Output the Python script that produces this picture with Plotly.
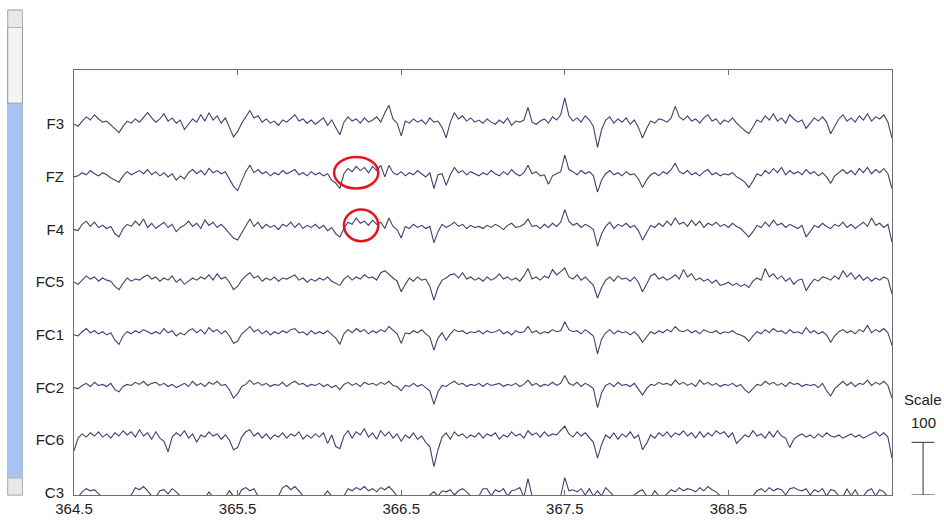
import plotly.graph_objects as go

# ---------------- data ----------------
t_start = 364.5
dt = 0.025
channels = ["F3", "FZ", "F4", "FC5", "FC1", "FC2", "FC6", "C3"]
spacing_uv = 100  # vertical separation between channels (µV)
scale_uv = 100

F3 = [0, -4, 6, 14, 8, 18, 10, 4, 6, -2, -8, -16, -4, 6, 2, 10, 4, 14, 22, 12,
      4, 10, 20, 6, 12, 2, 8, -10, 0, 10, 4, 18, 6, 22, 8, 16, 2, 12, -6, -24,
      -14, 2, 14, 26, 12, 16, 4, 10, 2, 6, -2, 8, 4, 12, 18, 6, 10, 2, 8, 0,
      6, 12, -2, 8, -6, -20, 4, 14, 6, 10, 2, 12, 4, 8, 14, 4, 22, 36, 10, 2,
      -22, 6, 2, 10, 4, 8, 0, 12, 4, 6, -6, -26, 4, 22, 10, 16, 6, 12, 4, 8,
      2, 10, 4, 0, 8, 2, 12, -2, 6, 4, 8, 32, 4, 0, 6, 10, 2, 14, 8, 18,
      50, 16, 6, 12, 4, 16, 8, -4, -44, -10, 8, 14, 2, 10, 4, 12, 0, 8, -6, -26,
      -8, 6, 2, 10, 8, 4, 12, 34, 14, 8, 16, 6, 10, 2, 12, 18, 6, 10, 0, 8,
      4, 12, 2, -6, -12, -18, -6, 8, 4, 16, 8, 20, 6, 12, 2, 18, 10, 4, 8, -8,
      2, 12, 6, 14, 4, -18, -4, 10, 18, 6, 12, 4, 16, 8, 20, 6, 14, 10, 18, 4, -26]
FZ = [0, 2, 8, 4, 12, 6, 2, 8, 4, -2, -6, -10, 2, 10, 4, 8, 12, 6, 14, 4,
      10, 2, 8, 0, 6, -6, 2, -4, 8, 14, 6, 12, 4, 16, 8, 12, 6, 10, -4, -18,
      -26, -8, 10, 22, 8, 14, 6, 10, 2, 8, 4, 12, 6, 10, 14, 4, 8, 2, 10, 4,
      8, 2, 6, -6, -12, -22, 6, 16, 10, 20, 12, 18, 8, 20, 12, 22, 0, 22, 8, 4,
      10, 2, 8, 4, 12, 6, 0, 8, -22, 4, 6, -16, 4, 18, 8, 12, 4, 10, 6, 2,
      8, 4, 12, 6, 2, 10, 4, 14, 6, 2, 8, 22, 6, 10, 2, 4, -14, 2, 6, 10,
      42, 14, 10, 4, 12, 6, 10, 2, -29, -6, 6, 12, 4, 8, 2, 10, 4, 6, -4, -20,
      -6, 4, 8, 2, 10, 6, 14, 26, 10, 6, 12, 4, 8, 2, 10, 14, 4, 8, 2, 6,
      4, 8, 0, -4, -10, -20, -8, 6, 2, 12, 6, 16, 8, 18, 4, 12, 6, 10, 4, 14,
      6, 10, 2, 8, 0, -12, 2, 8, 14, 6, 12, 4, 16, 8, 18, 6, 14, 8, 16, 6, -22]
F4 = [0, -2, 10, 16, 6, 14, 4, 8, 2, 6, -8, -14, 2, 10, 6, 16, 8, 20, 4, 12,
      2, 8, 14, 4, 10, -4, 4, 8, 16, 6, 12, 2, 18, 8, 14, 4, 10, 2, -6, -16,
      -20, -6, 8, 20, 6, 14, 2, 10, 4, 8, 0, 10, 6, 14, 4, 12, 2, 8, 4, 10,
      2, 8, -2, 4, -8, -14, 2, 14, 10, 22, 12, 16, 8, 18, 10, 14, 2, 22, 6, 0,
      -16, 6, 2, 10, 4, 8, 2, 6, -25, -4, 10, 4, 8, 14, 6, 10, 2, 8, 4, 6,
      2, 8, 4, 10, 6, 0, 8, 12, 4, 6, 10, 20, 6, 8, 2, 10, 4, 12, 6, 14,
      38, 16, 8, 12, 4, 10, 6, 0, -32, -8, 6, 14, 2, 10, 6, 12, 4, 8, -2, -20,
      -6, 8, 4, 12, 6, 16, 8, 22, 10, 14, 6, 18, 8, 16, 4, 12, 8, 14, 6, 10,
      4, 12, 6, 2, -6, -14, -4, 8, 4, 14, 6, 18, 8, 12, 4, 10, 6, 2, 8, -14,
      -4, 8, 4, 12, 6, 2, 10, 6, 14, 4, 10, 2, 8, 14, 6, 22, 8, 12, 4, 10, -24]
FC5 = [0, -4, 4, 12, 6, 10, 2, 8, 4, 2, -8, -14, -2, 8, 2, 6, 4, 10, 14, 6,
       10, 2, 8, 4, 12, 0, 6, -4, 2, 8, 4, 10, 6, 14, 4, 16, 6, 10, 0, -14,
       -8, 4, 12, 18, 8, 12, 2, 8, 4, 10, 2, 8, 6, 10, 14, 4, 8, 0, 6, 2,
       8, 4, 10, 2, -2, -6, 6, 12, 4, 10, 6, 14, 8, 10, 4, 18, 22, 14, 8, 2,
       -18, -4, 8, 2, 10, 4, 6, -8, -34, -10, 4, 8, 14, 16, 8, 18, 6, 10, 4, 8,
       2, 10, 4, 8, 16, 6, 10, 4, 8, 2, 12, 26, 6, 10, 4, 12, 8, 24, 14, 20,
       27, 10, 6, 14, 4, 10, 2, -6, -30, -10, 4, 10, 2, 12, 6, 8, 2, 10, 0, -18,
       -4, 12, 16, 6, 10, 4, 8, 14, 6, 24, 10, 16, 4, 8, 2, 6, -2, 4, -6, -4,
       0, -6, -2, -8, -4, -10, 2, 8, 4, 26, 10, 16, 6, 12, 2, 8, -4, 4, 6, -16,
       -4, 6, 2, 10, 8, 4, 12, 6, 22, 10, 18, 6, 14, 4, 10, 2, 8, 4, 10, 6, -22]
FC1 = [0, -2, 6, 12, 4, 8, 2, 6, 0, 4, -10, -18, -2, 6, 2, 8, 4, 10, 6, 2,
       6, 2, 12, 4, 8, -2, 4, 0, 8, 12, 4, 10, 2, 14, 6, 10, 2, 8, -2, -16,
       -12, 2, 8, 16, 6, 10, 2, 8, 0, 6, 2, 8, 4, 10, 12, 4, 6, 0, 8, 2,
       6, 2, 8, 0, -6, -18, 2, 10, 4, 12, 6, 10, 2, 8, 4, 10, 6, 16, 8, 2,
       -16, 4, 2, 8, 4, 10, 2, -4, -29, -6, 4, -10, 2, 10, 6, 8, 2, 6, 4, 8,
       2, 8, 4, 6, 10, 2, 6, 0, 8, 4, 6, 16, 4, 8, 2, 6, 4, 10, 6, 8,
       25, 10, 6, 8, 2, 10, 4, -2, -36, -8, 4, 10, 2, 8, 4, 6, 0, 6, -2, -14,
       -4, 6, 2, 8, 4, 10, 6, 16, 8, 6, 10, 4, 8, 2, 10, 6, 4, 8, 2, 6,
       4, 8, 2, 0, -4, -12, -2, 6, 2, 10, 4, 12, 6, 8, 2, 10, 4, 6, 2, 14,
       4, 8, 2, 6, 0, -14, -2, 6, 10, 4, 8, 2, 10, 6, 18, 4, 10, 6, 12, 4, -20]
FC2 = [0, -2, 4, 8, 2, 10, 4, 6, 2, 8, -4, -8, 2, 6, 4, 10, 6, 12, 4, 8,
       10, 4, 8, 2, 6, 0, 4, 8, 2, 12, 4, 8, 2, 10, 6, 12, 4, 6, -4, -20,
       -12, 2, 6, 14, 6, 10, 4, 8, 2, 6, 4, 10, 2, 8, 12, 6, 8, 2, 6, 4,
       8, 2, 6, 0, 4, -4, 6, 10, 4, 8, 2, 10, 6, 8, 4, 10, 6, 12, 4, 2,
       -6, 4, 2, 8, 2, 6, 0, -6, -32, -8, 4, 2, 8, 12, 6, 8, 2, 6, 4, 8,
       2, 8, 4, 6, 8, 2, 6, 4, 8, 2, 6, 14, 4, 8, 2, 6, 4, 10, 4, 8,
       23, 8, 4, 10, 2, 8, 4, -2, -38, -10, 4, 8, 2, 10, 4, 6, 2, 8, -2, -14,
       -2, 6, 4, 10, 6, 8, 4, 14, 6, 10, 4, 8, 2, 14, 6, 10, 4, 8, 2, 6,
       4, 8, 2, 6, -4, -10, -2, 6, 4, 12, 6, 10, 4, 8, 2, 10, 6, 8, 2, 6,
       4, 6, 0, 8, -6, -16, -2, 6, 12, 4, 10, 2, 8, 6, 14, 4, 10, 6, 12, 4, -20]
FC6 = [-20, 4, 12, 6, 14, 8, 16, 6, 12, 4, 14, 8, 18, 10, 16, 6, 20, 8, 14, 2,
       16, 4, -2, -22, 6, 14, 8, 18, 4, 12, -4, 10, 6, 16, 8, 12, 2, 10, 0, -18,
       -14, 6, 16, 20, 8, 14, 4, 12, 2, 10, 6, 14, 4, 12, 8, 16, 2, 10, 4, 12,
       6, 14, -6, 10, -12, -16, 8, 18, 4, 16, 10, 22, 6, 14, 2, 18, 8, 16, 4, 12,
       -2, 10, 4, 14, 2, 8, -4, -12, -50, -18, 6, 14, 2, 16, 8, 12, 4, 10, 6, 14,
       4, 12, 8, 14, 2, 10, 6, 16, 8, 12, 4, 18, 10, 14, 6, 16, 8, 12, 10, 18,
       27, 12, 6, 16, 8, 14, 4, -4, -34, -8, 10, 4, 14, 2, 12, 6, 16, 4, 10, -18,
       -6, 10, 4, 14, 8, 16, 6, 14, 10, 18, 8, 14, 4, 16, 6, 14, 8, 18, 12, 16,
       6, 14, -6, 2, 10, 6, 18, 8, 12, 4, 16, 6, 18, 8, 4, -14, 2, 8, 12, 6,
       10, 4, 12, 6, 14, 8, 6, 10, 4, 8, 12, 6, 10, 4, 8, 12, 16, 8, 14, 6, -34]
C3 = [-6, -8, 2, 8, 4, 6, -2, -8, -10, -6, -12, -8, -10, -6, -4, 10, 6, 12, 4, -6,
      -8, 4, 6, -2, 8, 2, -6, -8, -10, -6, -8, -6, -10, 2, -8, -6, -10, -8, 4, -6,
      -8, 6, 10, 4, 8, -6, -8, -6, -10, -8, -6, 10, 14, 6, 12, 4, -6, -8, -10, -6,
      -8, -6, 4, -6, -8, -10, -6, 8, 4, 10, 6, 12, 4, 8, 2, 10, 6, 12, 4, -6,
      -8, -10, -6, -8, -10, -6, -8, -4, 2, -6, 4, 2, 6, -4, 4, 8, 2, -6, -8, -6,
      8, 8, -6, 6, 2, 8, -6, 4, 6, 10, -8, 27, -6, -8, -10, -8, -6, -8, -10, -6,
      29, 4, 6, 2, 8, -4, 8, -6, 4, -6, 10, 2, -6, -8, -10, -6, -8, -4, 2, 6,
      -6, -8, 4, -6, -8, -2, 6, 2, 10, 4, 8, 6, 2, 10, 4, 12, 6, 2, -6, -8,
      -6, -10, -8, -6, -8, -10, -6, 4, 8, 2, 10, 4, 8, 6, -4, 8, 10, 6, 4, 8,
      -4, 6, 2, 8, -6, 6, 4, -6, -8, 8, -6, 6, -8, -6, 4, 8, -6, 6, 2, -8, -6]

signals = [F3, FZ, F4, FC5, FC1, FC2, FC6, C3]
tick_values = [364.5, 365.5, 366.5, 367.5, 368.5]
tick_labels = ["364.5", "365.5", "366.5", "367.5", "368.5"]
# highlighted events: (channel, t_from, t_to)
highlights = [("FZ", 366.09, 366.36), ("F4", 366.15, 366.36)]

# ---------------- figure ----------------
n = len(signals[0])
times = [t_start + dt * i for i in range(n)]
n_ch = len(channels)
offsets = {ch: (n_ch - 1 - k) * spacing_uv for k, ch in enumerate(channels)}

fig = go.Figure()
for ch, sig in zip(channels, signals):
    off = offsets[ch]
    fig.add_trace(go.Scatter(
        x=times, y=[v + off for v in sig], mode="lines",
        line=dict(color="#404070", width=1.1), showlegend=False,
        hoverinfo="skip"))

shapes = []
for ch, a, b in highlights:
    off = offsets[ch]
    shapes.append(dict(type="circle", xref="x", yref="y",
                       x0=a, x1=b, y0=off - 22, y1=off + 38,
                       line=dict(color="#e8141c", width=2.5)))

# scrollbar (decorative, left)
sx0, sx1 = -0.081, -0.063
shapes += [
    dict(type="rect", xref="paper", yref="paper", x0=sx0, x1=sx1, y0=0.0, y1=1.141,
         line=dict(color="#b0b0b0", width=1), fillcolor="#f0f0f0", layer="below"),
    dict(type="rect", xref="paper", yref="paper", x0=sx0, x1=sx1, y0=0.04, y1=0.922,
         line=dict(width=0), fillcolor="#a7c3f4", layer="below"),
    dict(type="rect", xref="paper", yref="paper", x0=sx0, x1=sx1, y0=0.922, y1=1.10,
         line=dict(color="#9a9a9a", width=1), fillcolor="#f4f4f4", layer="below"),
    dict(type="rect", xref="paper", yref="paper", x0=sx0, x1=sx1, y0=1.10, y1=1.141,
         line=dict(color="#b0b0b0", width=1), fillcolor="#e8e8e8", layer="below"),
    dict(type="rect", xref="paper", yref="paper", x0=sx0, x1=sx1, y0=0.0, y1=0.04,
         line=dict(color="#b0b0b0", width=1), fillcolor="#e8e8e8", layer="below"),
]

# scale bar (right)
bx, bw = 1.038, 0.014
shapes += [
    dict(type="line", xref="paper", yref="y", x0=bx, x1=bx, y0=-4, y1=scale_uv - 4,
         line=dict(color="#333333", width=1)),
    dict(type="line", xref="paper", yref="y", x0=bx - bw, x1=bx + bw, y0=-4, y1=-4,
         line=dict(color="#333333", width=1)),
    dict(type="line", xref="paper", yref="y", x0=bx - bw, x1=bx + bw,
         y0=scale_uv - 4, y1=scale_uv - 4, line=dict(color="#333333", width=1)),
]

annotations = [
    dict(text="Scale", xref="paper", yref="y", x=bx, y=scale_uv + 78, showarrow=False,
         font=dict(size=15, color="#222222"), xanchor="center", yanchor="middle"),
    dict(text=str(scale_uv), xref="paper", yref="y", x=bx, y=scale_uv + 33, showarrow=False,
         font=dict(size=15, color="#222222"), xanchor="center", yanchor="middle"),
]

fig.update_layout(
    width=944, height=525,
    margin=dict(l=74, r=52, t=70, b=30),
    paper_bgcolor="white", plot_bgcolor="white",
    font=dict(family="Liberation Sans, Arial, sans-serif", color="#222222", size=14),
    shapes=shapes, annotations=annotations,
    xaxis=dict(range=[364.5, 369.5], tickvals=tick_values, ticktext=tick_labels,
               showline=True, linecolor="#6e6e6e", linewidth=1, mirror="ticks",
               ticks="inside", ticklen=5, tickcolor="#6e6e6e", showgrid=False,
               zeroline=False, tickfont=dict(size=15), automargin=False,
               fixedrange=True),
    yaxis=dict(range=[-4, 803], tickvals=[offsets[c] for c in channels], ticktext=channels,
               showline=True, linecolor="#6e6e6e", linewidth=1, mirror=True,
               ticks="", showgrid=False, zeroline=False, tickfont=dict(size=15),
               ticklabelstandoff=6, automargin=False, fixedrange=True),
)

fig.write_html("out.html")
